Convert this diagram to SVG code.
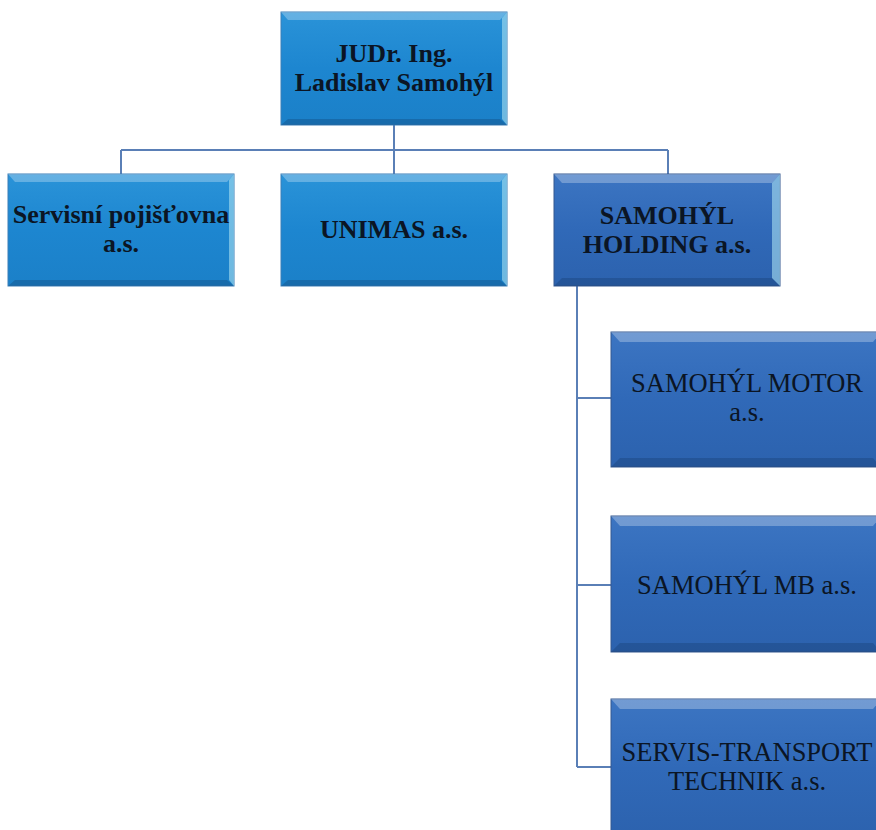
<svg xmlns="http://www.w3.org/2000/svg" width="876" height="830" viewBox="0 0 876 830">
<defs>
<linearGradient id="gA" x1="0" y1="0" x2="0" y2="1">
<stop offset="0" stop-color="#2a93d8"/><stop offset="0.5" stop-color="#1d86d0"/><stop offset="1" stop-color="#1b80c8"/>
</linearGradient>
<linearGradient id="gB" x1="0" y1="0" x2="0" y2="1">
<stop offset="0" stop-color="#3c75c2"/><stop offset="0.5" stop-color="#3069b8"/><stop offset="1" stop-color="#2c62ae"/>
</linearGradient>
<style>
.bA{fill:url(#gA);stroke:#3a7fb8;stroke-width:1}
.bB{fill:url(#gB);stroke:#34598f;stroke-width:1}
.hl{fill:#ffffff;opacity:0.28}
.sh{fill:#0a2a55;opacity:0.25}
.edge{fill:#a8e0f0;opacity:0.6}
.tb{font-family:"Liberation Serif",serif;font-weight:bold;font-size:26px;fill:#0b1524;text-anchor:middle}
.tr{font-family:"Liberation Serif",serif;font-size:26.5px;fill:#0b1524;text-anchor:middle}
.con{fill:none;stroke:#5a7fb6;stroke-width:2}
</style>
</defs>
<rect width="876" height="830" fill="#ffffff"/>
<g id="connectors">
<path class="con" d="M394 125 V150 M121 150 H668 M121 150 V174 M394 150 V174 M668 150 V174"/>
<path class="con" d="M577 286 V767 M577 398 H611 M577 585 H611 M577 767 H611"/>
</g>
<g id="n-samohyl">
<rect class="bA" x="281" y="12" width="226" height="113"/>
<polygon class="hl" points="281,12 507,12 500,20 288,20"/>
<polygon class="sh" points="281,125 507,125 500,119 288,119"/>
<polygon class="edge" points="507,12 507,125 502,119 502,18"/>
<text class="tb" x="394" y="62">JUDr. Ing.</text>
<text class="tb" x="394" y="91">Ladislav Samohýl</text>
</g>
<g id="n-servisni">
<rect class="bA" x="8" y="174" width="226" height="112"/>
<polygon class="hl" points="8,174 234,174 227,182 15,182"/>
<polygon class="sh" points="8,286 234,286 227,280 15,280"/>
<polygon class="edge" points="234,174 234,286 229,280 229,180"/>
<text class="tb" x="121" y="223">Servisní pojišťovna</text>
<text class="tb" x="121" y="252">a.s.</text>
</g>
<g id="n-unimas">
<rect class="bA" x="281" y="174" width="226" height="112"/>
<polygon class="hl" points="281,174 507,174 500,182 288,182"/>
<polygon class="sh" points="281,286 507,286 500,280 288,280"/>
<polygon class="edge" points="507,174 507,286 502,280 502,180"/>
<text class="tb" x="394" y="238">UNIMAS a.s.</text>
</g>
<g id="n-holding">
<rect class="bB" x="554" y="174" width="226" height="112"/>
<polygon class="hl" points="554,174 780,174 772,183 562,183"/>
<polygon class="sh" points="554,286 780,286 772,278 562,278"/>
<polygon class="edge" points="780,174 780,286 772,278 772,183"/>
<text class="tb" x="667" y="224">SAMOHÝL</text>
<text class="tb" x="667" y="253">HOLDING a.s.</text>
</g>
<g id="n-motor">
<rect class="bB" x="611" y="332" width="270" height="135"/>
<polygon class="hl" points="611,332 881,332 873,342 620,342"/>
<polygon class="sh" points="611,467 881,467 873,458 620,458"/>
<text class="tr" x="747" y="392">SAMOHÝL MOTOR</text>
<text class="tr" x="747" y="421">a.s.</text>
</g>
<g id="n-mb">
<rect class="bB" x="611" y="516" width="270" height="136"/>
<polygon class="hl" points="611,516 881,516 873,526 620,526"/>
<polygon class="sh" points="611,652 881,652 873,643 620,643"/>
<text class="tr" x="747" y="594">SAMOHÝL MB a.s.</text>
</g>
<g id="n-servis-transport">
<rect class="bB" x="611" y="699" width="270" height="140"/>
<polygon class="hl" points="611,699 881,699 873,709 620,709"/>
<text class="tr" x="747" y="761">SERVIS-TRANSPORT</text>
<text class="tr" x="747" y="790">TECHNIK a.s.</text>
</g>
</svg>
